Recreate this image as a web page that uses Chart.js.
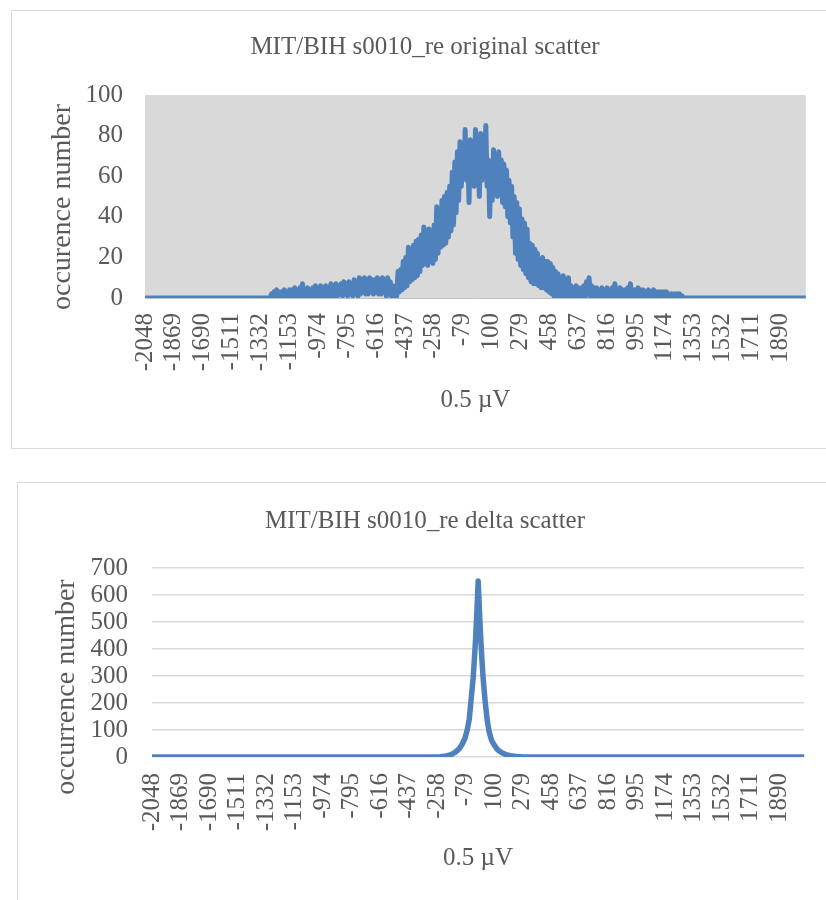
<!DOCTYPE html>
<html lang="en">
<head>
<meta charset="UTF-8">
<title>MIT/BIH s0010_re scatter</title>
<script src="https://cdn.jsdelivr.net/npm/chart.js"></script>
<style>
    body {
        margin: 0;
        background: #fff;
        width: 826px;
        height: 900px;
        overflow: hidden;
        position: relative;
    }
    .box {
        position: absolute;
        box-sizing: border-box;
        border: 1px solid #d9d9d9;
    }
    #box1 { left: 11px; top: 10px; width: 830px; height: 439px; }
    #box2 { left: 17px; top: 482px; width: 830px; height: 450px; }
    canvas { display: block; }
</style>
</head>
<body>
<div class="box" id="box1"><canvas id="originalChart" width="814" height="436"></canvas></div>
<div class="box" id="box2"><canvas id="deltaChart" width="808" height="417"></canvas></div>
<script>
// x tick labels shown on both charts (every 179th bin)
const xTicks = [-2048, -1869, -1690, -1511, -1332, -1153, -974, -795, -616, -437, -258, -79,
                100, 279, 458, 637, 816, 995, 1174, 1353, 1532, 1711, 1890];

// ends of the x range, where both curves sit at 0
const rangeEnds = [-2048, 2047];

// original scatter: counts read every 8 bins, from -1272 to 1304 (zero outside)
const originalStart = -1272;
const originalStep = 8;
const originalCounts = [
    0,
    2, 0, 3, 1, 4, 0, 3, 1, 3, 0, 4, 1, 3, 0, 4, 1,          // -1264
    4, 0, 5, 1, 4, 0, 5, 1, 7, 0, 4, 1, 5, 0, 4, 1,          // -1136
    5, 0, 6, 1, 5, 1, 6, 0, 5, 1, 6, 1, 5, 0, 7, 1,          // -1008
    6, 1, 7, 1, 6, 2, 7, 1, 8, 2, 7, 1, 8, 2, 7, 1,          // -880
    9, 2, 8, 1, 10, 2, 9, 3, 10, 2, 9, 2, 10, 3, 9, 2,       // -752
    9, 3, 10, 2, 9, 2, 10, 3, 9, 1, 10, 2, 8, 1, 6, 0,       // -624
    5, 1, 13, 3, 14, 4, 18, 5, 20, 6, 25, 8, 24, 9, 26, 10,  // -496
    28, 11, 29, 13, 31, 16, 35, 17, 33, 16, 34, 18, 33, 17, 36, 19,   // -368
    45, 22, 44, 25, 48, 26, 50, 27, 52, 30, 55, 33, 62, 36, 67, 42,   // -240
    72, 48, 77, 55, 70, 60, 83, 58, 72, 47, 78, 60, 70, 55, 83, 60,   // -112
    72, 50, 81, 58, 70, 62, 85, 55, 68, 40, 65, 48, 73, 55, 70, 50,   // 16
    72, 52, 68, 47, 66, 45, 63, 40, 58, 37, 55, 30, 50, 22, 47, 19,   // 144
    44, 16, 39, 14, 37, 12, 34, 10, 27, 8, 26, 7, 24, 7, 22, 6,       // 272
    19, 5, 20, 5, 18, 4, 18, 3, 17, 2, 15, 1, 13, 1, 12, 0,           // 400
    10, 0, 11, 1, 9, 0, 10, 0, 6, 1, 5, 0, 6, 1, 5, 0,       // 528
    5, 1, 6, 0, 8, 2, 10, 1, 6, 0, 5, 1, 5, 0, 4, 1,         // 656
    5, 0, 4, 1, 5, 0, 4, 1, 5, 0, 7, 1, 4, 0, 5, 1,          // 784
    4, 0, 4, 1, 5, 0, 7, 1, 4, 0, 4, 1, 5, 0, 4, 1,          // 912
    4, 0, 3, 1, 4, 0, 3, 1, 4, 0, 3, 1, 3, 0, 3, 1,          // 1040
    3, 0, 3, 0, 2, 1, 2, 0, 2, 0, 2, 1, 2, 0, 1, 0,          // 1168
    0, 0                                                     // 1296
];

// delta scatter: sampled positions and counts
const deltaX = [-280, -240, -200, -170, -145, -120, -100, -84, -68, -56, -44, -32, -24, -16, -8,
                0, 8, 16, 24, 32, 44, 56, 68, 84, 100, 120, 145, 170, 200, 240, 280];
const deltaY = [0, 1, 4, 9, 17, 30, 48, 68, 102, 140, 215, 290, 360, 440, 540,
                652, 540, 440, 355, 285, 205, 140, 95, 62, 45, 28, 17, 10, 5, 2, 0];

const grayText = '#595959';
const serif = 'Liberation Serif';
const lineBlue = '#4f81bd';

const plotBackground = {
    id: 'plotBackground',
    beforeDraw(chart, args, opts) {
        if (!opts.color) return;
        const { ctx, chartArea: a } = chart;
        ctx.save();
        ctx.fillStyle = opts.color;
        ctx.fillRect(a.left, a.top, a.right - a.left, a.bottom - a.top);
        ctx.restore();
    }
};

function withRangeEnds(points) {
    return [{ x: rangeEnds[0], y: 0 }, ...points, { x: rangeEnds[1], y: 0 }];
}

function xScale(labelPad, titlePad, height, border) {
    return {
        type: 'linear',
        min: rangeEnds[0],
        max: rangeEnds[1],
        afterBuildTicks: s => { s.ticks = xTicks.map(v => ({ value: v })); },
        afterFit: s => { s.height = height; },
        grid: { display: false, drawTicks: false },
        border: border,
        ticks: {
            autoSkip: false, minRotation: 90, maxRotation: 90, padding: labelPad,
            color: grayText, font: { family: serif, size: 25 },
            callback: v => String(v)
        },
        title: {
            display: true, text: '0.5 µV', color: grayText,
            font: { family: serif, size: 25, lineHeight: 1 },
            padding: { top: 0, bottom: titlePad }
        }
    };
}

// trailing spaces push the rotated title a bit lower, like the original
function yTitle(text, spaces, pad) {
    return {
        display: true, text: text + '\u00a0'.repeat(spaces), color: grayText,
        font: { family: serif, size: 28, lineHeight: 1 },
        padding: { top: pad, bottom: 0 }
    };
}

function chartTitle(text, top, bottom) {
    return {
        display: true, text: text, color: grayText,
        font: { family: serif, size: 25, weight: 'normal', lineHeight: 1 },
        padding: { top: top, bottom: bottom }
    };
}

const originalPoints = withRangeEnds(originalCounts.map((c, i) => ({ x: originalStart + i * originalStep, y: c })));
const deltaPoints = withRangeEnds(deltaX.map((x, i) => ({ x: x, y: deltaY[i] })));

new Chart(document.getElementById('originalChart'), {
    type: 'line',
    data: {
        datasets: [{
            data: originalPoints,
            borderColor: lineBlue,
            borderWidth: 5,
            borderCapStyle: 'round',
            borderJoinStyle: 'round',
            pointRadius: 0,
            tension: 0
        }]
    },
    options: {
        responsive: false,
        animation: false,
        devicePixelRatio: 1,
        layout: { padding: { left: 26, right: 14, top: 0, bottom: 0 } },
        plugins: {
            legend: { display: false },
            tooltip: { enabled: false },
            title: chartTitle('MIT/BIH s0010_re original scatter', 23.5, 35.5),
            plotBackground: { color: '#d9d9d9' }
        },
        scales: {
            x: xScale(15, 34.5, 149, { display: true, color: '#bfbfbf', width: 1 }),
            y: {
                min: 0, max: 100,
                afterFit: s => { s.width = 107; },
                grid: { display: false, drawTicks: false },
                border: { display: false },
                ticks: { stepSize: 20, autoSkip: false, padding: 22, color: grayText, font: { family: serif, size: 25 } },
                title: yTitle('occurence number', 3, 11)
            }
        }
    },
    plugins: [plotBackground]
});

new Chart(document.getElementById('deltaChart'), {
    type: 'line',
    data: {
        datasets: [{
            data: deltaPoints,
            borderColor: lineBlue,
            borderWidth: 5.5,
            borderCapStyle: 'round',
            borderJoinStyle: 'round',
            pointRadius: 0,
            tension: 0
        }]
    },
    options: {
        responsive: false,
        animation: false,
        devicePixelRatio: 1,
        layout: { padding: { left: 27, right: 21, top: 0, bottom: 0 } },
        plugins: {
            legend: { display: false },
            tooltip: { enabled: false },
            title: chartTitle('MIT/BIH s0010_re delta scatter', 25.5, 34.5)
        },
        scales: {
            x: xScale(16, 29.5, 143, { display: false }),
            y: {
                min: 0, max: 700,
                afterFit: s => { s.width = 107; },
                grid: { color: '#d9d9d9', lineWidth: 1.5, drawTicks: false },
                border: { display: false },
                ticks: { stepSize: 100, autoSkip: false, padding: 24, color: grayText, font: { family: serif, size: 25 } },
                title: yTitle('occurrence number', 7, 8)
            }
        }
    }
});
</script>
</body>
</html>
